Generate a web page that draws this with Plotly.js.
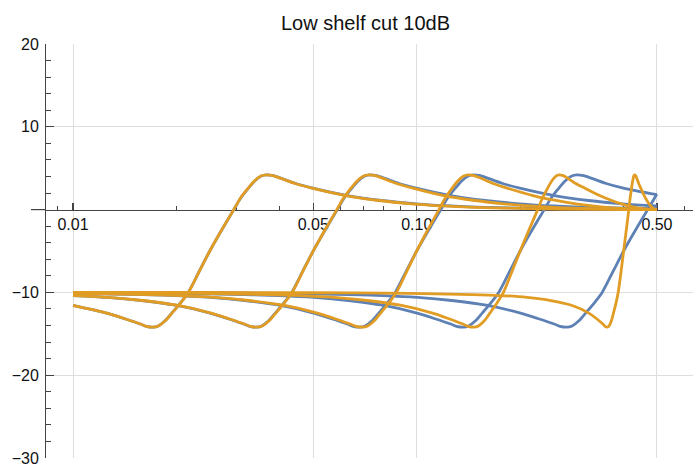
<!DOCTYPE html>
<html>
<head>
<meta charset="utf-8">
<script src="https://cdn.plot.ly/plotly-3.0.1.min.js"></script>
<style>
  html, body { margin: 0; padding: 0; background: #ffffff; }
  #chart { width: 693px; height: 464px; }
</style>
</head>
<body>
<div id="chart"></div>
<script>
// ---- Data (normalised frequency, gain in dB) ----
// Blue curves (analog prototype), corner frequencies 0.025, 0.05, 0.1, 0.2, 0.4
const blue1Freq = [0.01, 0.01253, 0.01406, 0.01577, 0.01633, 0.0171, 0.0177, 0.01853, 0.01941, 0.02032, 0.02165, 0.02333, 0.025, 0.02679, 0.02937, 0.03076, 0.03221, 0.03372, 0.03531, 0.03655, 0.03828, 0.03962, 0.04446, 0.04988, 0.0628, 0.07906, 0.09953, 0.1253, 0.1577, 0.25, 0.5];
const blue1Gain = [-11.56, -12.5, -13.15, -13.85, -14.1, -14.2, -14.05, -13.43, -12.47, -11.5, -10.0, -7.4, -5.0, -2.8, 0, 1.4, 2.47, 3.43, 4.05, 4.2, 4.1, 3.9, 3.15, 2.6, 1.7, 1.1, 0.7, 0.44, 0.28, 0.12, 0.04];

const blue2Freq = [0.01, 0.01256, 0.01581, 0.01991, 0.02506, 0.02812, 0.03155, 0.03266, 0.0342, 0.0354, 0.03707, 0.03881, 0.04064, 0.0433, 0.04666, 0.05, 0.05358, 0.05875, 0.06151, 0.06441, 0.06745, 0.07063, 0.07311, 0.07655, 0.07924, 0.08891, 0.09976, 0.1256, 0.1581, 0.1991, 0.2506, 0.3155, 0.5];
const blue2Gain = [-10.38, -10.6, -10.98, -11.55, -12.5, -13.15, -13.85, -14.1, -14.2, -14.05, -13.43, -12.47, -11.5, -10.0, -7.4, -5.0, -2.8, 0, 1.4, 2.47, 3.43, 4.05, 4.2, 4.1, 3.9, 3.15, 2.6, 1.7, 1.1, 0.7, 0.44, 0.28, 0.12];

const blue3Freq = [0.01, 0.01585, 0.01995, 0.02512, 0.03162, 0.03981, 0.05012, 0.05623, 0.0631, 0.06531, 0.06839, 0.0708, 0.07413, 0.07763, 0.08128, 0.0866, 0.09333, 0.1, 0.1072, 0.1175, 0.123, 0.1288, 0.1349, 0.1413, 0.1462, 0.1531, 0.1585, 0.1778, 0.1995, 0.2512, 0.3162, 0.3981, 0.5];
const blue3Gain = [-10.12, -10.26, -10.38, -10.6, -10.98, -11.55, -12.5, -13.15, -13.85, -14.1, -14.2, -14.05, -13.43, -12.47, -11.5, -10.0, -7.4, -5.0, -2.8, 0, 1.4, 2.47, 3.43, 4.05, 4.2, 4.1, 3.9, 3.15, 2.6, 1.7, 1.1, 0.7, 0.44];

const blue4Freq = [0.01, 0.02, 0.0317, 0.03991, 0.05024, 0.06325, 0.07962, 0.1002, 0.1125, 0.1262, 0.1306, 0.1368, 0.1416, 0.1483, 0.1553, 0.1626, 0.1732, 0.1867, 0.2, 0.2143, 0.235, 0.2461, 0.2577, 0.2698, 0.2825, 0.2924, 0.3062, 0.317, 0.3557, 0.3991, 0.5];
const blue4Gain = [-10.04, -10.12, -10.26, -10.38, -10.6, -10.98, -11.55, -12.5, -13.15, -13.85, -14.1, -14.2, -14.05, -13.43, -12.47, -11.5, -10.0, -7.4, -5.0, -2.8, 0, 1.4, 2.47, 3.43, 4.05, 4.2, 4.1, 3.9, 3.15, 2.6, 1.8];

const blue5Freq = [0.01, 0.02005, 0.04, 0.0634, 0.07981, 0.1005, 0.1265, 0.1592, 0.2005, 0.2249, 0.2524, 0.2613, 0.2736, 0.2832, 0.2965, 0.3105, 0.3251, 0.3464, 0.3733, 0.4, 0.4286, 0.47, 0.4921, 0.5];
const blue5Gain = [-10.01, -10.04, -10.12, -10.26, -10.38, -10.6, -10.98, -11.55, -12.5, -13.15, -13.85, -14.1, -14.2, -14.05, -13.43, -12.47, -11.5, -10.0, -7.4, -5.0, -2.8, 0, 1.4, 1.85];

// Orange curves (digital versions, warped towards Nyquist 0.5)
const orange1Freq = [0.01, 0.01255, 0.01408, 0.0158, 0.01635, 0.01712, 0.01772, 0.01855, 0.01943, 0.02034, 0.02166, 0.02334, 0.025, 0.02678, 0.02935, 0.03072, 0.03216, 0.03366, 0.03524, 0.03647, 0.03817, 0.0395, 0.04426, 0.04958, 0.06213, 0.07764, 0.09665, 0.1196, 0.1467, 0.2122, 0.3195, 0.4017, 0.5];
const orange1Gain = [-11.56, -12.5, -13.15, -13.85, -14.1, -14.2, -14.05, -13.43, -12.47, -11.5, -10.0, -7.4, -5.0, -2.8, 0, 1.4, 2.47, 3.43, 4.05, 4.2, 4.1, 3.9, 3.15, 2.6, 1.7, 1.1, 0.7, 0.44, 0.28, 0.12, 0.04, 0.01, 0];

const orange2Freq = [0.01, 0.01266, 0.01593, 0.02004, 0.02522, 0.02828, 0.03171, 0.03281, 0.03435, 0.03554, 0.0372, 0.03894, 0.04076, 0.04339, 0.04671, 0.05, 0.05351, 0.05857, 0.06126, 0.06407, 0.067, 0.07006, 0.07244, 0.07573, 0.07829, 0.08739, 0.09743, 0.1199, 0.1478, 0.1791, 0.2136, 0.2499, 0.3207, 0.4024, 0.4499, 0.5];
const orange2Gain = [-10.38, -10.6, -10.98, -11.55, -12.5, -13.15, -13.85, -14.1, -14.2, -14.05, -13.43, -12.47, -11.5, -10.0, -7.4, -5.0, -2.8, 0, 1.4, 2.47, 3.43, 4.05, 4.2, 4.1, 3.9, 3.15, 2.6, 1.7, 1.1, 0.7, 0.44, 0.28, 0.12, 0.04, 0.01, 0];

const orange3Freq = [0.01, 0.01638, 0.02061, 0.02592, 0.03259, 0.04095, 0.05139, 0.05753, 0.06437, 0.06656, 0.0696, 0.07197, 0.07524, 0.07864, 0.08219, 0.08731, 0.09372, 0.1, 0.1066, 0.1161, 0.1211, 0.1262, 0.1315, 0.137, 0.1412, 0.1469, 0.1514, 0.1668, 0.1831, 0.2179, 0.2543, 0.2905, 0.3247, 0.3555, 0.405, 0.4513, 0.4754, 0.5];
const orange3Gain = [-10.12, -10.26, -10.38, -10.6, -10.98, -11.55, -12.5, -13.15, -13.85, -14.1, -14.2, -14.05, -13.43, -12.47, -11.5, -10.0, -7.4, -5.0, -2.8, 0, 1.4, 2.47, 3.43, 4.05, 4.2, 4.1, 3.9, 3.15, 2.6, 1.7, 1.1, 0.7, 0.44, 0.28, 0.12, 0.04, 0.01, 0];

const orange4Freq = [0.01, 0.02309, 0.0365, 0.04582, 0.05746, 0.07189, 0.08963, 0.1112, 0.1235, 0.1368, 0.141, 0.1468, 0.1512, 0.1573, 0.1635, 0.1698, 0.1788, 0.1896, 0.2, 0.2105, 0.2249, 0.2322, 0.2395, 0.2468, 0.2541, 0.2596, 0.2669, 0.2724, 0.2903, 0.3078, 0.3404, 0.3693, 0.3941, 0.4147, 0.4316, 0.4565, 0.4781, 0.489, 0.5];
const orange4Gain = [-10.04, -10.12, -10.26, -10.38, -10.6, -10.98, -11.55, -12.5, -13.15, -13.85, -14.1, -14.2, -14.05, -13.43, -12.47, -11.5, -10.0, -7.4, -5.0, -2.8, 0, 1.4, 2.47, 3.43, 4.05, 4.2, 4.1, 3.9, 3.15, 2.6, 1.7, 1.1, 0.7, 0.44, 0.28, 0.12, 0.04, 0.01, 0];

const orange5Freq = [0.01, 0.02456, 0.04872, 0.09504, 0.1445, 0.1753, 0.2095, 0.2457, 0.2821, 0.3169, 0.3332, 0.3486, 0.3531, 0.3588, 0.363, 0.3685, 0.3738, 0.379, 0.3857, 0.3934, 0.4, 0.4063, 0.4141, 0.4178, 0.4214, 0.4248, 0.428, 0.4304, 0.4334, 0.4356, 0.4425, 0.4486, 0.4591, 0.4674, 0.4741, 0.4794, 0.4836, 0.4897, 0.4948, 0.5];
const orange5Gain = [-10.0, -10.01, -10.04, -10.12, -10.26, -10.38, -10.6, -10.98, -11.55, -12.5, -13.15, -13.85, -14.1, -14.2, -14.05, -13.43, -12.47, -11.5, -10.0, -7.4, -5.0, -2.8, 0, 1.4, 2.47, 3.43, 4.05, 4.2, 4.1, 3.9, 3.15, 2.6, 1.7, 1.1, 0.7, 0.44, 0.28, 0.12, 0.04, 0];

// Axis ticks
const xTickVals = [0.01, 0.05, 0.1, 0.5];
const xTickText = ["0.01", "0.05", "0.10", "0.50"];
const xMinorVals = [0.009, 0.02, 0.03, 0.04, 0.06, 0.07, 0.08, 0.09, 0.2, 0.3, 0.4, 0.6];
const yTickVals = [-30, -20, -10, 10, 20];
const yTickText = ["\u221230", "\u221220", "\u221210", "10", "20"];
const yMinorVals = [-28, -26, -24, -22, -18, -16, -14, -12, -8, -6, -4, -2, 2, 4, 6, 8, 12, 14, 16, 18];

const chartTitle = "Low shelf cut 10dB";

// ---- Build traces ----
const BLUE = "rgb(94,129,181)";
const ORANGE = "rgb(225,156,36)";
const blueSets = [[blue1Freq, blue1Gain], [blue2Freq, blue2Gain], [blue3Freq, blue3Gain], [blue4Freq, blue4Gain], [blue5Freq, blue5Gain]];
const orangeSets = [[orange1Freq, orange1Gain], [orange2Freq, orange2Gain], [orange3Freq, orange3Gain], [orange4Freq, orange4Gain], [orange5Freq, orange5Gain]];

const traces = [];
blueSets.forEach(function (s) {
  traces.push({x: s[0], y: s[1], type: "scatter", mode: "lines",
    line: {color: BLUE, width: 2.8, shape: "spline", smoothing: 0.8},
    hoverinfo: "skip", showlegend: false});
});
orangeSets.forEach(function (s) {
  traces.push({x: s[0], y: s[1], type: "scatter", mode: "lines",
    line: {color: ORANGE, width: 2.8, shape: "spline", smoothing: 0.8},
    hoverinfo: "skip", showlegend: false});
});

const FONT = "'Liberation Sans', Arial, Helvetica, sans-serif";
const AXIS = "#444444";
const GRID = "#dedede";

const layout = {
  width: 693, height: 464,
  margin: {l: 45, r: 0, t: 44, b: 6, pad: 0},
  paper_bgcolor: "#ffffff", plot_bgcolor: "#ffffff",
  font: {family: FONT, size: 16, color: "#111111"},
  showlegend: false,
  title: {text: chartTitle, font: {family: FONT, size: 20, color: "#111111"},
    xref: "container", x: 0.5274, xanchor: "center",
    yref: "container", y: 0.95, yanchor: "middle"},
  xaxis: {
    type: "log",
    range: [-2.0815, -0.1961],
    anchor: "free", position: 0.6,
    showline: true, linecolor: AXIS, linewidth: 1.2,
    tickmode: "array", tickvals: xTickVals, ticktext: xTickText,
    ticks: "inside", ticklen: 7, tickwidth: 1.2, tickcolor: AXIS,
    tickfont: {family: FONT, size: 16, color: "#111111"},
    ticklabeloverflow: "allow",
    showgrid: true, gridcolor: GRID, gridwidth: 1,
    minor: {tickmode: "array", tickvals: xMinorVals, ticks: "inside", ticklen: 4, tickwidth: 1, tickcolor: AXIS, showgrid: false},
    zeroline: false, layer: "below traces", fixedrange: true
  },
  yaxis: {
    range: [-30, 20],
    anchor: "free", position: 0,
    showline: true, linecolor: AXIS, linewidth: 1.2,
    tickmode: "array", tickvals: yTickVals, ticktext: yTickText,
    ticks: "inside", ticklen: 8, tickwidth: 1.2, tickcolor: AXIS,
    tickfont: {family: FONT, size: 16, color: "#111111"},
    ticklabeloverflow: "allow", ticklabelstandoff: 3,
    showgrid: true, gridcolor: GRID, gridwidth: 1,
    minor: {tickmode: "array", tickvals: yMinorVals, ticks: "inside", ticklen: 4.5, tickwidth: 1, tickcolor: AXIS, showgrid: false},
    zeroline: false, layer: "below traces", fixedrange: true
  },
  shapes: [
    {type: "line", xref: "paper", yref: "y", x0: -0.0216, x1: 0, y0: 0, y1: 0,
     line: {color: AXIS, width: 1.2}, layer: "below"}
  ]
};

Plotly.newPlot("chart", traces, layout, {staticPlot: true, displayModeBar: false});
</script>
</body>
</html>
